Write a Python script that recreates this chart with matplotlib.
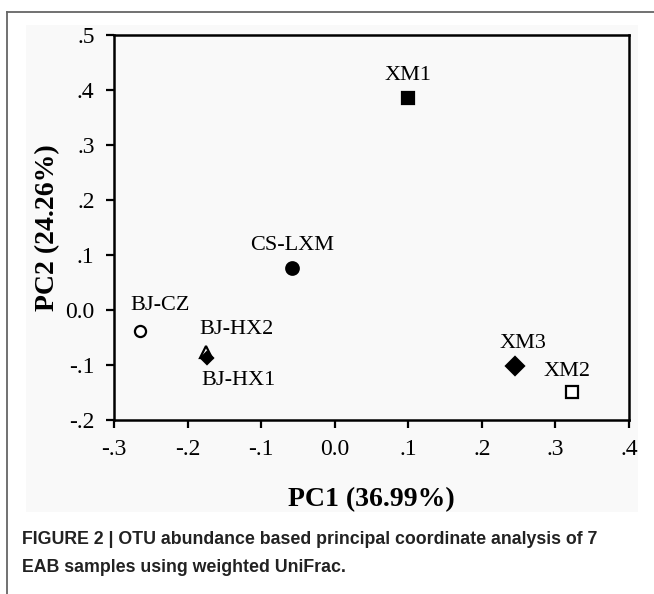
import matplotlib.pyplot as plt
from matplotlib.patches import Rectangle
from matplotlib.lines import Line2D

# PCoA sample coordinates
samples = ["XM1", "CS-LXM", "BJ-CZ", "BJ-HX2", "BJ-HX1", "XM3", "XM2"]
pc1 = [0.100, -0.058, -0.265, -0.175, -0.173, 0.245, 0.323]
pc2 = [0.385, 0.076, -0.039, -0.077, -0.088, -0.102, -0.149]

xticks = [-0.3, -0.2, -0.1, 0.0, 0.1, 0.2, 0.3, 0.4]
xlabels = ["-.3", "-.2", "-.1", "0.0", ".1", ".2", ".3", ".4"]
yticks = [-0.2, -0.1, 0.0, 0.1, 0.2, 0.3, 0.4, 0.5]
ylabels = ["-.2", "-.1", "0.0", ".1", ".2", ".3", ".4", ".5"]

W, H = 654, 594
fig = plt.figure(figsize=(W / 100, H / 100), dpi=100)
fig.patch.set_facecolor("white")

# light grey image background + page frame lines
fig.patches.append(Rectangle((26 / W, 1 - 512 / H), (638 - 26) / W, (512 - 25) / H,
                             transform=fig.transFigure, facecolor="#f9f9f9",
                             edgecolor="none", zorder=-5))
fig.lines.append(Line2D([7 / W, 7 / W], [0, 1 - 12 / H], transform=fig.transFigure,
                        color="#666666", lw=1.3))
fig.lines.append(Line2D([7 / W, 1], [1 - 12 / H, 1 - 12 / H], transform=fig.transFigure,
                        color="#666666", lw=1.3))

ax = fig.add_axes([114 / W, 1 - 420 / H, (629 - 114) / W, (420 - 35) / H])
ax.set_zorder(2)
ax.set_facecolor("#f9f9f9")
ax.set_xlim(-0.3, 0.4)
ax.set_ylim(-0.2, 0.5)

# markers per sample
styles = {
    "XM1": dict(marker="s", mfc="black", ms=9),
    "CS-LXM": dict(marker="o", mfc="black", ms=9),
    "BJ-CZ": dict(marker="o", mfc="white", ms=8),
    "BJ-HX2": dict(marker="^", mfc="white", ms=8),
    "BJ-HX1": dict(marker="D", mfc="black", ms=6.5),
    "XM3": dict(marker="D", mfc="black", ms=9),
    "XM2": dict(marker="s", mfc="white", ms=8),
}
for name, x, y in zip(samples, pc1, pc2):
    st = styles[name]
    ax.plot(x, y, linestyle="none", marker=st["marker"], markerfacecolor=st["mfc"],
            markeredgecolor="black", markersize=st["ms"], markeredgewidth=1.6, zorder=3)

serif = "Liberation Serif"
# label offsets in data units (dx, dy)
offsets = {
    "XM1": (0.0, 0.042),
    "CS-LXM": (0.0, 0.042),
    "BJ-CZ": (0.027, 0.047),
    "BJ-HX2": (0.041, 0.042),
    "BJ-HX1": (0.042, -0.040),
    "XM3": (0.011, 0.042),
    "XM2": (-0.007, 0.037),
}
for name, x, y in zip(samples, pc1, pc2):
    dx, dy = offsets[name]
    ax.text(x + dx, y + dy, name, fontsize=16, family=serif, ha="center", va="center")

ax.set_xticks(xticks)
ax.set_xticklabels(xlabels, family=serif, fontsize=17)
ax.set_yticks(yticks)
ax.set_yticklabels(ylabels, family=serif, fontsize=17)
ax.tick_params(direction="out", length=6, width=1.6, pad=8)
for sp in ax.spines.values():
    sp.set_linewidth(1.8)

ax.set_xlabel("PC1 (36.99%)", family=serif, fontsize=20, fontweight="bold", labelpad=19)
ax.set_ylabel("PC2 (24.26%)", family=serif, fontsize=20, fontweight="bold", labelpad=4)

fig.text(22 / W, 1 - 540 / H,
         "FIGURE 2 | OTU abundance based principal coordinate analysis of 7",
         family="Liberation Sans", fontweight="bold", fontsize=12.8, color="#222222",
         va="center")
fig.text(22 / W, 1 - 568 / H, "EAB samples using weighted UniFrac.",
         family="Liberation Sans", fontweight="bold", fontsize=12.8, color="#222222",
         va="center")

fig.savefig("out.png", dpi=100)
